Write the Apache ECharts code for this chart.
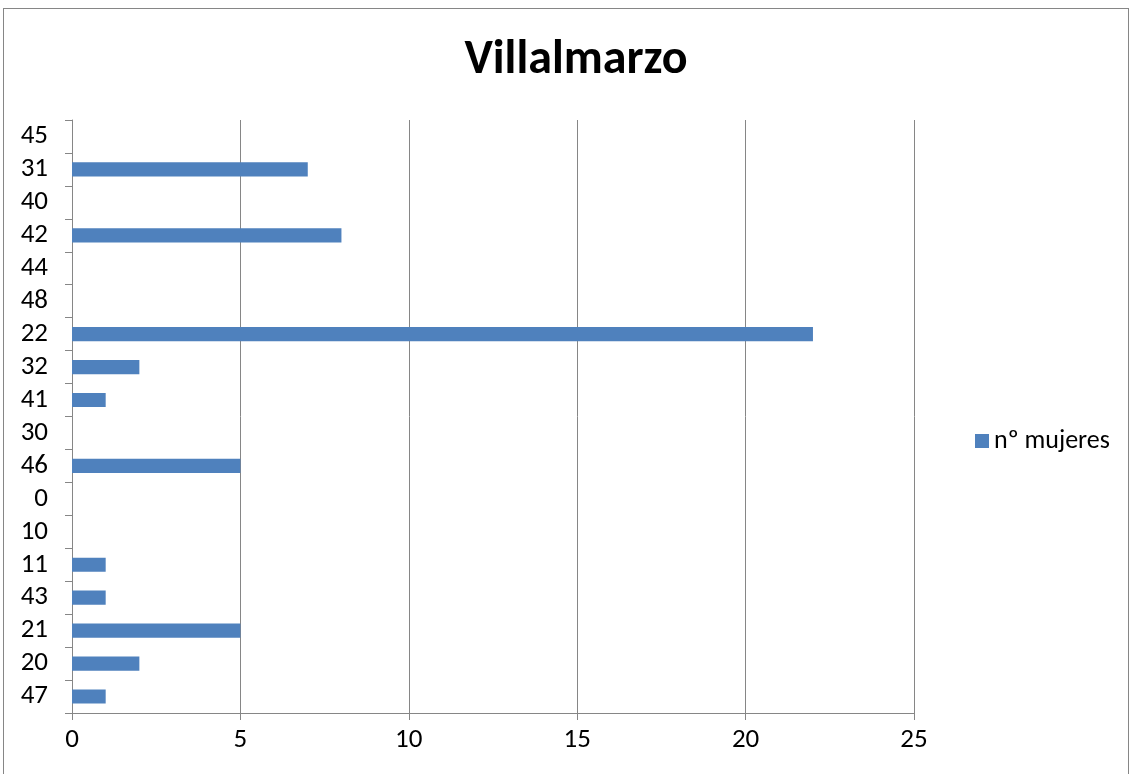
<!DOCTYPE html>
<html>
<head>
<meta charset="utf-8">
<script src="https://cdn.jsdelivr.net/npm/echarts@6/dist/echarts.min.js"></script>
<style>
  html, body { margin: 0; padding: 0; background: #fff; }
  #frame { position: absolute; left: 3px; top: 8px; width: 1126px; height: 780px; border: 1px solid #868686; box-sizing: border-box; }
  #chart { position: absolute; left: 0; top: 0; width: 1132px; height: 774px; }
</style>
</head>
<body>
<div id="frame"></div>
<div id="chart"></div>
<script>
// categorias de abajo hacia arriba
var categorias = ['47', '20', '21', '43', '11', '10', '0', '46', '30', '41', '32', '22', '48', '44', '42', '40', '31', '45'];
var mujeres = [1, 2, 5, 1, 1, 0, 0, 5, 0, 1, 2, 22, 0, 0, 8, 0, 7, 0];
var ticksX = [0, 5, 10, 15, 20, 25];

var chartDom = document.getElementById('chart');
var myChart = echarts.init(chartDom);

var fuente = 'Carlito, "Open Sans", sans-serif';

var option = {
  animation: false,
  textStyle: { fontFamily: fuente },
  title: {
    text: 'Villalmarzo',
    left: 571,
    top: 32,
    textAlign: 'center',
    textStyle: { fontSize: 48, fontWeight: 'bold', color: '#000', fontFamily: fuente }
  },
  legend: {
    left: 970,
    top: 423,
    itemWidth: 14,
    itemHeight: 14,
    itemGap: 4,
    icon: 'rect',
    textStyle: { fontSize: 26, color: '#000', fontFamily: fuente },
    data: ['nº mujeres']
  },
  grid: { left: 72, right: 218, top: 120, bottom: 61, containLabel: false },
  xAxis: {
    type: 'value',
    min: ticksX[0],
    max: ticksX[ticksX.length - 1],
    interval: 5,
    axisLine: { show: true, lineStyle: { color: '#868686' } },
    axisTick: { show: true, length: 7, lineStyle: { color: '#868686' } },
    axisLabel: { fontSize: 27, color: '#000', margin: 14, fontFamily: fuente },
    splitLine: { show: true, lineStyle: { color: '#868686' } }
  },
  yAxis: {
    type: 'category',
    data: categorias,
    axisLine: { show: true, lineStyle: { color: '#868686' } },
    axisTick: { show: true, length: 7, interval: 0, lineStyle: { color: '#868686' } },
    axisLabel: { fontSize: 27, lineHeight: 27, interval: 0, hideOverlap: false, color: '#000', margin: 24, fontFamily: fuente }
  },
  series: [
    {
      name: 'nº mujeres',
      type: 'bar',
      data: mujeres,
      barCategoryGap: '57%',
      itemStyle: { color: '#4F81BD' }
    }
  ]
};

myChart.setOption(option);
</script>
</body>
</html>
